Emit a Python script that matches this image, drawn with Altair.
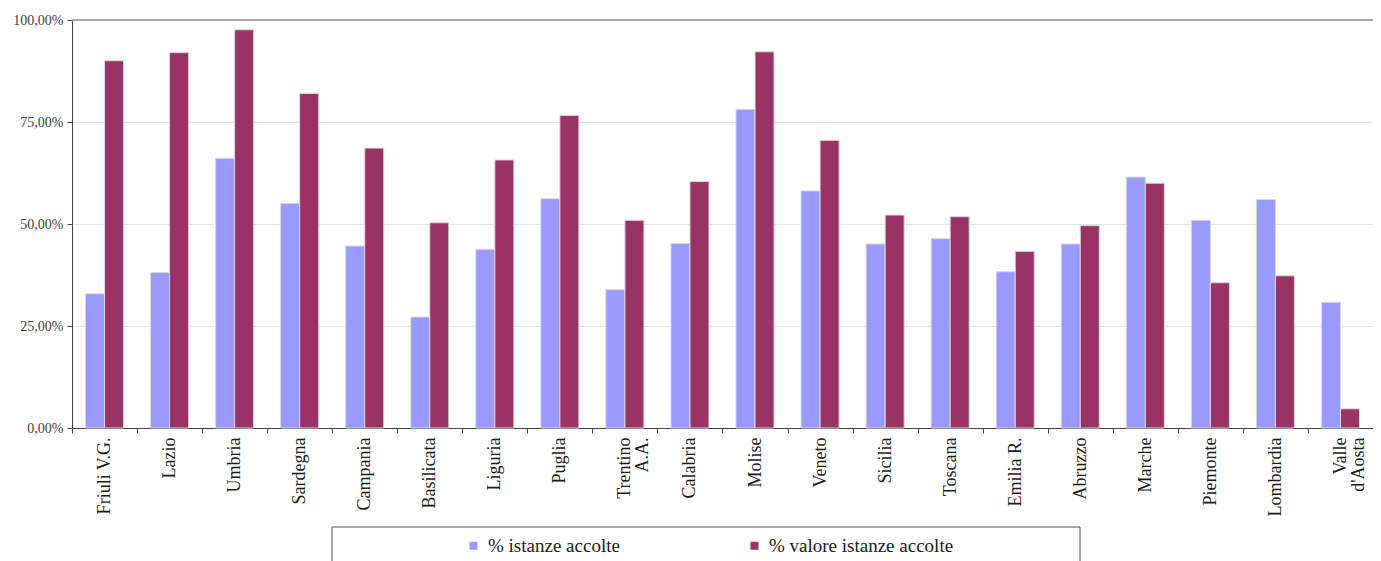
import altair as alt
import pandas as pd

regioni = ["Friuli V.G.", "Lazio", "Umbria", "Sardegna", "Campania", "Basilicata",
           "Liguria", "Puglia", "Trentino A.A.", "Calabria", "Molise", "Veneto",
           "Sicilia", "Toscana", "Emilia R.", "Abruzzo", "Marche", "Piemonte",
           "Lombardia", "Valle d'Aosta"]
istanze = [32.9, 38.1, 66.1, 55.0, 44.6, 27.2, 43.8, 56.2, 33.9, 45.2,
           78.1, 58.1, 45.1, 46.4, 38.3, 45.1, 61.5, 50.9, 56.0, 30.8]
valore = [90.0, 92.0, 97.6, 82.0, 68.6, 50.3, 65.7, 76.6, 50.9, 60.4,
          92.2, 70.5, 52.2, 51.8, 43.3, 49.6, 60.0, 35.6, 37.3, 4.7]
serie = ["% istanze accolte", "% valore istanze accolte"]
colori = ["#9999FF", "#993366"]
tick_y = [0, 0.25, 0.5, 0.75, 1.0]

rows = []
for r, a, b in zip(regioni, istanze, valore):
    rows.append({"regione": r, "serie": serie[0], "valore": a / 100})
    rows.append({"regione": r, "serie": serie[1], "valore": b / 100})
df = pd.DataFrame(rows)

FONT = "Liberation Serif"

label_expr_x = ("datum.value == 'Trentino A.A.' ? ['Trentino', 'A.A.'] : "
                "datum.value == \"Valle d'Aosta\" ? ['Valle', \"d'Aosta\"] : datum.value")

bars = alt.Chart(df).mark_bar(stroke="#d8d8d8", strokeWidth=1).encode(
    x=alt.X("regione:N", sort=regioni,
            scale=alt.Scale(paddingInner=0, paddingOuter=0),
            axis=alt.Axis(title=None, labelAngle=-90, tickBand="extent",
                          labelFont=FONT, labelFontSize=18, labelColor="#1a1a1a",
                          labelLineHeight=18, labelExpr=label_expr_x,
                          domainColor="#404040", tickColor="#404040",
                          tickSize=5, labelPadding=4, labelLimit=200)),
    xOffset=alt.XOffset("serie:N", sort=serie,
                        scale=alt.Scale(paddingInner=0, paddingOuter=0.71)),
    y=alt.Y("valore:Q", scale=alt.Scale(domain=[0, 1], nice=False),
            axis=alt.Axis(title=None, values=tick_y,
                          labelExpr="replace(format(datum.value, '.2%'), '.', ',')",
                          labelFont=FONT, labelFontSize=14, labelColor="#404040",
                          gridColor="#e3e3e3", domainColor="#404040",
                          tickColor="#404040", tickSize=5, labelPadding=4)),
    color=alt.Color("serie:N", sort=serie,
                    scale=alt.Scale(domain=serie, range=colori),
                    legend=alt.Legend(title=None, orient="none", legendX=392,
                                      legendY=516, direction="horizontal",
                                      symbolType="square", symbolSize=64,
                                      symbolStrokeWidth=0, labelFont=FONT,
                                      labelFontSize=19, labelColor="#1a1a1a",
                                      labelOffset=5, columnPadding=125,
                                      padding=0, labelLimit=300)),
)

top_rule = alt.Chart(alt.Data(values=[{}])).mark_rule(
    color="#a8a8a8", strokeWidth=2).encode(y=alt.datum(1.0))

legend_box = alt.Chart(alt.Data(values=[{}])).mark_rect(
    fillOpacity=0, stroke="#505050", strokeWidth=1).encode(
    x=alt.value(260), x2=alt.value(1008), y=alt.value(507), y2=alt.value(620))

chart = alt.layer(bars, top_rule, legend_box).properties(
    width=1301, height=408,
    autosize=alt.AutoSizeParams(type="none"),
    padding={"left": 64, "top": 12, "right": 0, "bottom": 133},
).configure_view(stroke=None)

chart.save("out.html", embed_options={"renderer": "svg", "actions": False})
